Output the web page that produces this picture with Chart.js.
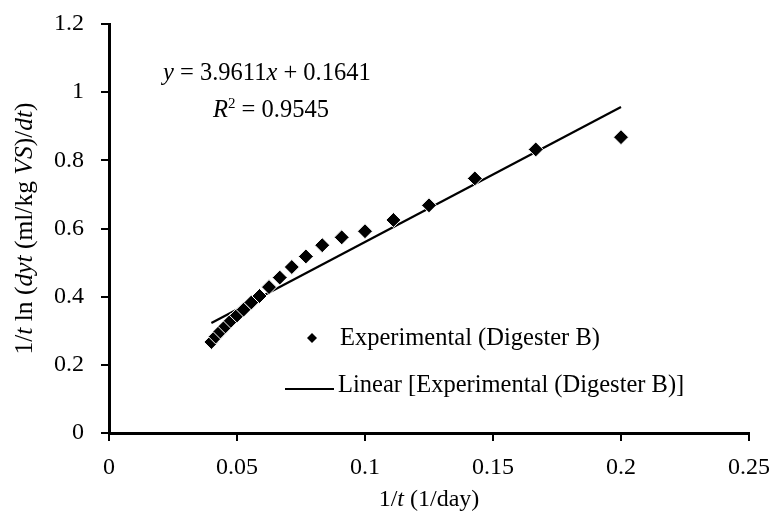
<!DOCTYPE html>
<html>
<head>
<title>Digester B linear fit</title>
<script src="https://cdn.jsdelivr.net/npm/chart.js@4.4.0/dist/chart.umd.min.js"></script>
<style>
    body { margin: 0; background: #fff; }
</style>
</head>
<body>
<canvas id="fitChart" width="770" height="522"></canvas>
<script>
    // 1/t (1/day), t = 25 ... 5 days
    xValues = [0.04, 0.0417, 0.0435, 0.0455, 0.0476, 0.05, 0.0526, 0.0556, 0.0588, 0.0625, 0.0667,
               0.0714, 0.0769, 0.0833, 0.0909, 0.1, 0.1111, 0.125, 0.1429, 0.1667, 0.2];
    yValues = [0.267, 0.283, 0.298, 0.313, 0.329, 0.345, 0.362, 0.383, 0.402, 0.428, 0.456,
               0.487, 0.518, 0.551, 0.574, 0.592, 0.625, 0.668, 0.747, 0.832, 0.868];
    // fitted line end points (y = 3.9611x + 0.1641)
    trendX = [0.04, 0.2];
    trendY = [0.3225, 0.9563];
    xTicks = [0, 0.05, 0.1, 0.15, 0.2, 0.25];
    yTicks = [0, 0.2, 0.4, 0.6, 0.8, 1, 1.2];
    pointLabel = 'Experimental (Digester B)';
    lineLabel = 'Linear [Experimental (Digester B)]';

    FAMILY = '"Liberation Serif", serif';
    FS = 24;

    function fontFor(run, size) {
        if (run[1] === 'i') return 'italic ' + size + 'px ' + FAMILY;
        if (run[1] === 'sup') return Math.round(size * 0.6) + 'px ' + FAMILY;
        return size + 'px ' + FAMILY;
    }

    // draws a row of text pieces, some italic, some superscript
    function drawRuns(ctx, runs, x, y, size, align) {
        let total = 0;
        runs.forEach(r => { ctx.font = fontFor(r, size); total += ctx.measureText(r[0]).width; });
        let cx = align === 'center' ? x - total / 2 : x;
        runs.forEach(r => {
            ctx.font = fontFor(r, size);
            let dy = r[1] === 'sup' ? -size * 0.38 : 0;
            ctx.fillText(r[0], cx, y + dy);
            cx += ctx.measureText(r[0]).width;
        });
    }

    textPlugin = {
        id: 'textPlugin',
        afterDraw(chart) {
            const ctx = chart.ctx;
            const area = chart.chartArea;
            ctx.save();
            ctx.fillStyle = '#000';
            ctx.textAlign = 'left';
            ctx.textBaseline = 'middle';

            // x axis title
            drawRuns(ctx, [['1/', ''], ['t', 'i'], [' (1/day)', '']], (area.left + area.right) / 2, 500, FS, 'center');

            // y axis title
            ctx.save();
            ctx.translate(25, (area.top + area.bottom) / 2);
            ctx.rotate(-Math.PI / 2);
            drawRuns(ctx, [['1/', ''], ['t', 'i'], [' ln (', ''], ['dyt', 'i'], [' (ml/kg ', ''], ['VS', 'i'],
                           [')/', ''], ['dt', 'i'], [')', '']], 0, 0, 25.5, 'center');
            ctx.restore();

            // equation
            ctx.textBaseline = 'alphabetic';
            drawRuns(ctx, [['y', 'i'], [' = 3.9611', ''], ['x', 'i'], [' + 0.1641', '']], 163, 80, 24.5, 'left');
            drawRuns(ctx, [['R', 'i'], ['2', 'sup'], [' = 0.9545', '']], 213, 117, 24.5, 'left');

            // legend
            ctx.textBaseline = 'middle';
            const ds = chart.data.datasets;
            ctx.beginPath();
            ctx.moveTo(312, 333); ctx.lineTo(317, 338); ctx.lineTo(312, 343); ctx.lineTo(307, 338);
            ctx.closePath();
            ctx.fill();
            ctx.font = '24.5px ' + FAMILY;
            ctx.fillText(ds[0].label, 340, 339);

            ctx.strokeStyle = '#000';
            ctx.lineWidth = 2;
            ctx.beginPath();
            ctx.moveTo(285, 389); ctx.lineTo(334, 389);
            ctx.stroke();
            ctx.fillText(ds[1].label, 338, 386);
            ctx.restore();
        }
    };

    ctx = document.getElementById('fitChart');

    fitChart = new Chart(ctx, {
        type: 'scatter',
        data: {
            datasets: [{
                label: pointLabel,
                data: xValues.map((x, i) => ({ x: x, y: yValues[i] })),
                pointStyle: 'rectRot',
                pointRadius: 7.5,
                backgroundColor: '#000',
                borderColor: '#fff',
                borderWidth: 1,
                showLine: false
            }, {
                label: lineLabel,
                data: trendX.map((x, i) => ({ x: x, y: trendY[i] })),
                showLine: true,
                pointRadius: 0,
                borderColor: '#000',
                borderWidth: 2.2,
                fill: false
            }]
        },
        options: {
            responsive: false,
            animation: false,
            layout: { padding: { top: 24, right: 21, left: 0, bottom: 0 } },
            plugins: { legend: { display: false }, tooltip: { enabled: false } },
            scales: {
                x: {
                    type: 'linear',
                    min: 0, max: 0.25,
                    border: { color: '#000', width: 3 },
                    grid: { drawOnChartArea: false, drawTicks: true, tickLength: 8, color: '#000', lineWidth: 2 },
                    ticks: { color: '#000', font: { family: FAMILY, size: FS }, padding: 12, maxRotation: 0,
                             callback: v => String(v) },
                    afterBuildTicks: s => { s.ticks = xTicks.map(v => ({ value: v })); },
                    afterFit: s => { s.height = 89; s.paddingLeft = 0; s.paddingRight = 0; }
                },
                y: {
                    type: 'linear',
                    min: 0, max: 1.2,
                    border: { color: '#000', width: 3 },
                    grid: { drawOnChartArea: false, drawTicks: true, tickLength: 8, color: '#000', lineWidth: 2 },
                    ticks: { color: '#000', font: { family: FAMILY, size: FS }, padding: 17,
                             callback: v => String(v) },
                    afterBuildTicks: s => { s.ticks = yTicks.map(v => ({ value: v })); },
                    afterFit: s => { s.width = 109; s.paddingTop = 0; s.paddingBottom = 0; }
                }
            }
        },
        plugins: [textPlugin]
    });
</script>
</body>
</html>
